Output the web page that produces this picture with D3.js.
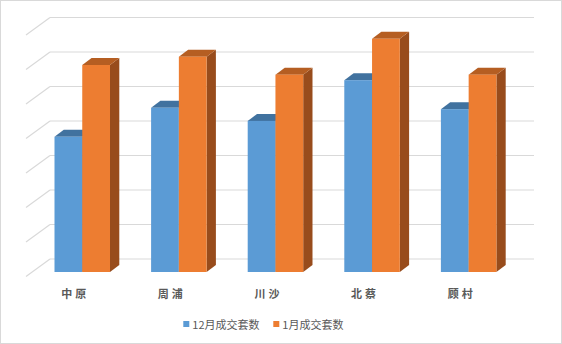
<!DOCTYPE html>
<html><head><meta charset="utf-8">
<script src="https://cdn.jsdelivr.net/npm/d3@7"></script>
<style>html,body{margin:0;padding:0;background:#fff;}svg{display:block;}</style>
</head><body>
<svg id="c" width="562" height="344"></svg>
<script>
const categories = ["中原", "周浦", "川沙", "北蔡", "顾村"];
const seriesNames = ["12月成交套数", "1月成交套数"];
const dec = [196, 238, 219, 278, 236];
const jan = [300, 312, 286, 338, 286];
const gridTicks = [0, 50, 100, 150, 200, 250, 300, 350];

const colors = [
  {front: "#5B9BD5", top: "#41729F", side: "#3E6F9C"},
  {front: "#ED7D31", top: "#B55E22", side: "#984C1C"}
];
const svg = d3.select("#c");
svg.append("rect").attr("x",0.5).attr("y",0.5).attr("width",561).attr("height",343)
  .attr("fill","#fff").attr("stroke","#d9d9d9");

const depthX = 9.3, depthY = 7;
const wallY = d3.scaleLinear().domain([0,350]).range([259,17.5]);
const y = d3.scaleLinear().domain([0,350]).range([272,30.5]);
const x = d3.scaleBand().domain(categories).range([33.95, 516.95]).paddingInner(0.4255).paddingOuter(0.21275);
const xs = d3.scaleBand().domain(seriesNames).range([0, x.bandwidth()]);

// back wall gridlines + side wall diagonals
const g = svg.append("g");
gridTicks.forEach(t => {
  const yy = wallY(t);
  g.append("line").attr("x1",50).attr("x2",534).attr("y1",yy).attr("y2",yy)
    .attr("stroke","#d9d9d9").attr("stroke-width",1.2);
  g.append("line").attr("x1",50).attr("x2",26).attr("y1",yy).attr("y2",yy+17.5)
    .attr("stroke","#d9d9d9").attr("stroke-width",1.2);
});

const data = [dec, jan];
categories.forEach((c, i) => {
  data.forEach((vals, s) => {
    const x0 = x(c) + xs(seriesNames[s]);
    const x1 = x0 + xs.bandwidth();
    const top = y(vals[i]), bot = y(0);
    const col = colors[s];
    // side
    svg.append("path").attr("d", `M${x1},${top}L${x1+depthX},${top-depthY}L${x1+depthX},${bot-depthY}L${x1},${bot}Z`)
      .attr("fill", col.side);
    // top
    svg.append("path").attr("d", `M${x0},${top}L${x0+depthX},${top-depthY}L${x1+depthX},${top-depthY}L${x1},${top}Z`)
      .attr("fill", col.top);
    // front
    svg.append("rect").attr("x",x0).attr("y",top).attr("width",x1-x0).attr("height",bot-top)
      .attr("fill", col.front);
  });
});

// category labels
svg.append("g").selectAll("text").data(categories).join("text")
  .attr("x", d => x(d) + x.bandwidth()/2 - 7)
  .attr("y", 298)
  .attr("text-anchor","middle")
  .attr("font-family","'Noto Sans CJK SC', sans-serif")
  .attr("font-size","11px").attr("font-weight","bold")
  .attr("letter-spacing","3px")
  .attr("fill","#595959")
  .text(d => d);

// legend
const legendItems = [{name: seriesNames[0], x: 183.3, c: colors[0].front}, {name: seriesNames[1], x: 273.3, c: colors[1].front}];
const lg = svg.append("g");
legendItems.forEach(it => {
  lg.append("rect").attr("x", it.x).attr("y", 321).attr("width",6).attr("height",6).attr("fill", it.c);
  lg.append("text").attr("x", it.x + 9).attr("y", 329)
    .attr("font-family","'Noto Sans CJK SC', sans-serif").attr("font-size","11px")
    .attr("fill","#595959").text(it.name);
});
</script>
</body></html>
